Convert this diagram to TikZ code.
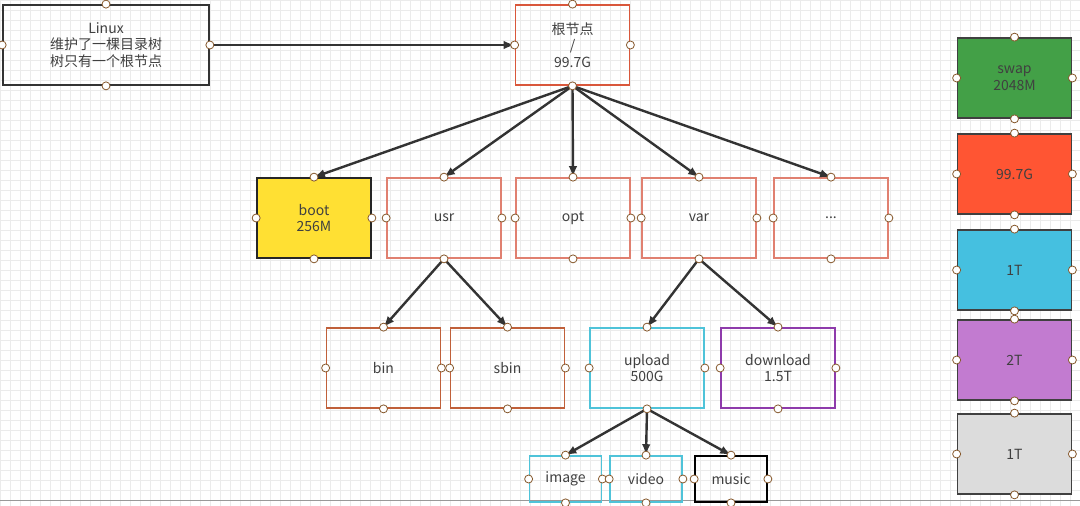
\documentclass[tikz,border=0pt]{standalone}
\usepackage{fontspec}
\setmainfont{Noto Sans CJK SC}
\begin{document}
\begin{tikzpicture}[x=0.75pt,y=-0.75pt,
  bx/.style={draw,line width=1.3pt,minimum width=85.5pt,minimum height=60pt,inner sep=0pt,align=center,font=\fontsize{10.5}{12.5}\selectfont,text=black!75},
  sm/.style={bx,minimum width=54pt,minimum height=34.5pt},
  ar/.style={-latex,line width=1.8pt,draw=black!80},
  hc/.style={circle,draw=brown!70!black,fill=white,inner sep=0pt,minimum size=6pt,line width=0.6pt}]
\definecolor{sal}{HTML}{E08070}
\definecolor{rootc}{HTML}{D9573B}
\definecolor{brn}{HTML}{C0603A}
\definecolor{cyn}{HTML}{4FC3D9}
\definecolor{pur}{HTML}{8E3BAB}
\definecolor{yel}{HTML}{FFE033}
\definecolor{grn}{HTML}{43A047}
\definecolor{rd}{HTML}{FF5533}
\definecolor{cy2}{HTML}{45C0E0}
\definecolor{vio}{HTML}{C27BD0}
\definecolor{gry}{HTML}{DCDCDC}
\useasboundingbox (0,0) rectangle (1080,506);
\fill[white] (0,0) rectangle (1080,506);
\foreach \x in {0,10,...,1080} \draw[black!8,line width=0.4pt] (\x,0) -- (\x,506);
\foreach \y in {0,10,...,506} \draw[black!8,line width=0.4pt] (0,\y) -- (1080,\y);
\draw[black!40,line width=0.6pt] (0,500) -- (1080,500);
\newcommand\hd[1]{\foreach \a in {north,south,east,west} \node[hc] at (#1.\a) {};}
\node[bx,draw=black!80,minimum width=154.5pt] (linux) at (106,45) {Linux\\维护了一棵目录树\\树只有一个根节点};
\node[bx,draw=rootc] (root) at (572.5,45) {根节点\\/\\99.7G};
\node[bx,draw=black!85,fill=yel] (boot) at (314,218) {boot\\256M};
\node[bx,draw=sal] (usr) at (444,218) {usr};
\node[bx,draw=sal] (opt) at (573,218) {opt};
\node[bx,draw=sal] (var) at (699,218) {var};
\node[bx,draw=sal] (dots) at (831,218) {...};
\node[bx,draw=brn] (bin) at (383.5,368) {bin};
\node[bx,draw=brn] (sbin) at (507.5,368) {sbin};
\node[bx,draw=cyn] (upload) at (647,368) {upload\\500G};
\node[bx,draw=pur] (download) at (778,368) {download\\1.5T};
\node[sm,draw=cyn] (image) at (565.5,479) {image};
\node[sm,draw=cyn] (video) at (646,479) {video};
\node[sm,draw=black] (music) at (731,479) {music};
\node[bx,draw=black!75,fill=grn] (swap) at (1014.5,78) {swap\\2048M};
\node[bx,draw=black!75,fill=rd] (d1) at (1014.5,174) {99.7G};
\node[bx,draw=black!75,fill=cy2] (d2) at (1014.5,270) {1T};
\node[bx,draw=black!75,fill=vio] (d3) at (1014.5,360) {2T};
\node[bx,draw=black!75,fill=gry] (d4) at (1014.5,454) {1T};
\draw[ar] (linux.east) -- (root.west);
\foreach \t in {boot,usr,opt,var,dots} \draw[ar] (root.south) -- (\t.north);
\foreach \t in {bin,sbin} \draw[ar] (usr.south) -- (\t.north);
\foreach \t in {upload,download} \draw[ar] (var.south) -- (\t.north);
\foreach \t in {image,video,music} \draw[ar] (upload.south) -- (\t.north);
\foreach \n in {linux,root,boot,usr,opt,var,dots,bin,sbin,upload,download,image,video,music,swap,d1,d2,d3,d4} {\hd{\n}}
\end{tikzpicture}
\end{document}
